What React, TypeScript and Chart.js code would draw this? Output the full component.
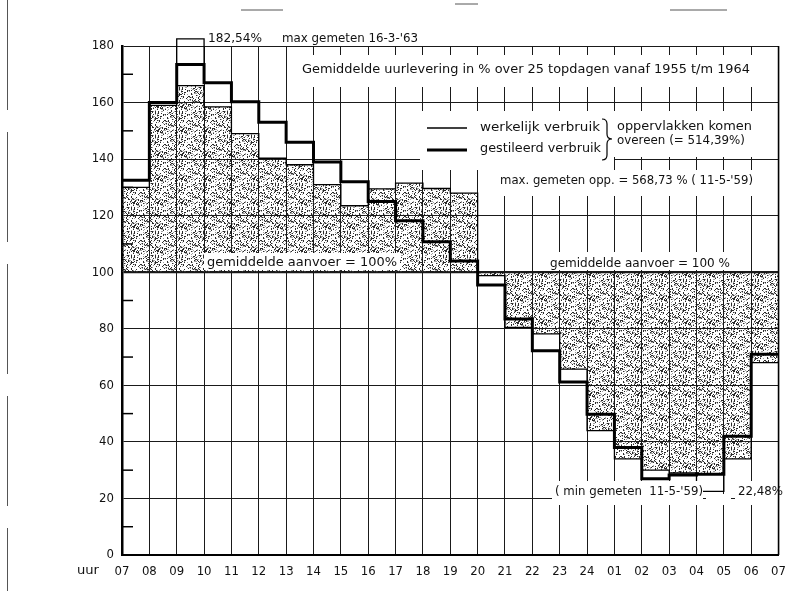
import { useEffect, useRef } from "react";
import { Chart, registerables } from "chart.js";

Chart.register(...registerables);

// ---- data ----
const hourLabels = [
  "07", "08", "09", "10", "11", "12", "13", "14", "15", "16", "17", "18",
  "19", "20", "21", "22", "23", "24", "01", "02", "03", "04", "05", "06", "07",
];
// werkelijk verbruik (actual average), value per hour interval 07-08 ... 06-07
const werkelijkVerbruik = [
  130, 159, 166, 158.5, 149, 140.3, 138, 131, 123.5, 129.5, 131.5, 129.6,
  128, 98.8, 80.5, 78.2, 65.7, 44, 34, 30, 29, 28.6, 34, 68,
];
// gestileerd verbruik (stylised)
const gestileerdVerbruik = [
  132.5, 160, 173.5, 167, 160.3, 153, 146, 139, 132, 125, 118.2, 110.8,
  104, 95.5, 83.5, 72.2, 61.2, 49.8, 38, 27, 28.3, 28.6, 42, 71,
];
const maxGemeten = 182.54;
const maxHourIndex = 2;
const minGemeten = 22.48;
const minHourIndex = 21;
const gemiddeldeAanvoer = 100;
const yTickValues = [0, 20, 40, 60, 80, 100, 120, 140, 160, 180];
const yMinorTicks = [10, 30, 50, 70, 90, 110, 130, 150, 170];

const FONT = '"DejaVu Sans Condensed", "DejaVu Sans", sans-serif';

function stepPoints(values: number[]) {
  const pts = values.map((v, i) => ({ x: i, y: v }));
  pts.push({ x: values.length, y: values[values.length - 1] });
  return pts;
}

// stipple texture tile (deterministic hash, texture only)
function makeStipple(ctx: CanvasRenderingContext2D) {
  const n = 24;
  const c = document.createElement("canvas");
  c.width = n;
  c.height = n;
  const g = c.getContext("2d")!;
  for (let y = 0; y < n; y++) {
    for (let x = 0; x < n; x++) {
      let h = Math.imul(x * 374761393 + y * 668265263, 1274126177) >>> 0;
      h = (h ^ (h >>> 13)) >>> 0;
      h = Math.imul(h, 1103515245) >>> 0;
      h = (h ^ (h >>> 16)) >>> 0;
      const r = h % 100;
      if (r < 20) {
        g.fillStyle = "rgba(20,20,20,0.9)";
        g.fillRect(x, y, 1, 1);
      } else if (r < 34) {
        g.fillStyle = "rgba(70,70,70,0.5)";
        g.fillRect(x, y, 1, 1);
      }
    }
  }
  return ctx.createPattern(c, "repeat")!;
}

function fitText(
  ctx: CanvasRenderingContext2D,
  text: string,
  x1: number,
  x2: number,
  yc: number,
  size = 13
) {
  ctx.save();
  ctx.font = `${size}px ${FONT}`;
  ctx.textBaseline = "middle";
  ctx.textAlign = "left";
  const w = ctx.measureText(text).width;
  const sx = (x2 - x1) / w;
  ctx.translate(x1, yc);
  ctx.scale(sx, 1);
  ctx.fillStyle = "#111";
  ctx.fillText(text, 0, 0);
  ctx.restore();
}

function whiteBox(ctx: CanvasRenderingContext2D, x1: number, y1: number, x2: number, y2: number) {
  ctx.fillStyle = "#fff";
  ctx.fillRect(x1, y1, x2 - x1, y2 - y1);
}

function line(ctx: CanvasRenderingContext2D, x1: number, y1: number, x2: number, y2: number, w: number) {
  ctx.beginPath();
  ctx.lineWidth = w;
  ctx.moveTo(x1, y1);
  ctx.lineTo(x2, y2);
  ctx.stroke();
}

export default function App() {
  const ref = useRef<HTMLCanvasElement>(null);

  useEffect(() => {
    const canvas = ref.current!;
    const ctx2d = canvas.getContext("2d")!;
    const stipple = makeStipple(ctx2d);

    const annot = {
      id: "annot",
      afterDatasetsDraw(chart: any) {
        const ctx: CanvasRenderingContext2D = chart.ctx;
        const ys = chart.scales.y;
        const area = chart.chartArea;
        ctx.save();
        // white backgrounds behind the texts
        whiteBox(ctx, 292, 55, 765, 87);
        whiteBox(ctx, 420, 111, 765, 157);
        whiteBox(ctx, 420, 157, 614, 170);
        whiteBox(ctx, 497, 170, 758, 196);
        whiteBox(ctx, 204, 253, 400, 270);
        whiteBox(ctx, 545, 252, 735, 270);
        whiteBox(ctx, 552, 481, 703, 505);
        whiteBox(ctx, 706, 494, 731, 505);
        whiteBox(ctx, 735, 481, 786, 505);

        ctx.strokeStyle = "#000";
        // minor ticks on y axis
        yMinorTicks.forEach((v) => {
          const y = ys.getPixelForValue(v);
          line(ctx, area.left, y, area.left + 11, y, 1.5);
        });
        // right border
        line(ctx, area.right, area.top, area.right, area.bottom, 1.6);

        // texts
        const yMax = ys.getPixelForValue(maxGemeten);
        fitText(ctx, "182,54%", 208, 262, yMax);
        fitText(ctx, "max gemeten 16-3-'63", 282, 418, yMax);
        fitText(ctx, "Gemiddelde uurlevering in % over 25 topdagen vanaf 1955 t/m 1964", 302, 750, 70);

        // legend
        line(ctx, 427, 128, 467, 128, 1.3);
        line(ctx, 427, 150, 467, 150, 3);
        fitText(ctx, "werkelijk verbruik", 480, 600, 128);
        fitText(ctx, "gestileerd verbruik", 480, 601, 149);
        // brace
        ctx.beginPath();
        ctx.lineWidth = 1.2;
        ctx.moveTo(602, 119);
        ctx.quadraticCurveTo(607, 119, 607, 124);
        ctx.lineTo(607, 134);
        ctx.quadraticCurveTo(607, 139, 612, 139);
        ctx.quadraticCurveTo(607, 139, 607, 144);
        ctx.lineTo(607, 155);
        ctx.quadraticCurveTo(607, 160, 602, 160);
        ctx.stroke();
        fitText(ctx, "oppervlakken komen", 617, 752, 127);
        fitText(ctx, "overeen (= 514,39%)", 617, 745, 141);
        fitText(ctx, "max. gemeten opp. = 568,73 % ( 11-5-'59)", 500, 753, 181);

        const y100 = ys.getPixelForValue(gemiddeldeAanvoer);
        fitText(ctx, "gemiddelde aanvoer = 100%", 207, 397, y100 - 10);
        fitText(ctx, "gemiddelde aanvoer = 100 %", 550, 730, y100 - 9);

        const yMin = ys.getPixelForValue(minGemeten);
        fitText(ctx, "( min gemeten  11-5-'59)", 555, 703, yMin);
        fitText(ctx, "22,48%", 738, 783, yMin);

        // axis unit label
        fitText(ctx, "uur", 77, 99, 571);

        // scan artefacts: page edge and top dashes
        ctx.strokeStyle = "#555";
        ctx.setLineDash([110, 22]);
        line(ctx, 7.5, 0, 7.5, 591, 1);
        ctx.setLineDash([]);
        line(ctx, 241, 10, 283, 10, 1);
        line(ctx, 455, 4, 478, 4, 1);
        line(ctx, 670, 10, 727, 10, 1);
        ctx.restore();
      },
    };

    const chart = new Chart(canvas, {
      type: "line",
      data: {
        datasets: [
          {
            label: "gestileerd verbruik",
            data: stepPoints(gestileerdVerbruik),
            stepped: "before",
            borderColor: "#000",
            borderWidth: 3,
            pointRadius: 0,
            fill: false,
          },
          {
            label: "max gemeten",
            data: [
              { x: maxHourIndex, y: gestileerdVerbruik[maxHourIndex] },
              { x: maxHourIndex, y: maxGemeten },
              { x: maxHourIndex + 1, y: maxGemeten },
              { x: maxHourIndex + 1, y: gestileerdVerbruik[maxHourIndex] },
            ],
            borderColor: "#000",
            borderWidth: 1.3,
            pointRadius: 0,
            tension: 0,
            fill: false,
            clip: false as any,
          },
          {
            label: "min gemeten",
            data: [
              { x: minHourIndex, y: gestileerdVerbruik[minHourIndex] },
              { x: minHourIndex, y: minGemeten },
              { x: minHourIndex + 1, y: minGemeten },
              { x: minHourIndex + 1, y: gestileerdVerbruik[minHourIndex] },
            ],
            borderColor: "#000",
            borderWidth: 1.3,
            pointRadius: 0,
            tension: 0,
            fill: false,
          },
          {
            label: "werkelijk verbruik",
            data: stepPoints(werkelijkVerbruik),
            stepped: "before",
            borderColor: "#000",
            borderWidth: 1.3,
            pointRadius: 0,
            backgroundColor: stipple as any,
            fill: { value: gemiddeldeAanvoer },
          },
        ],
      },
      options: {
        responsive: false,
        devicePixelRatio: 1,
        animation: false,
        layout: { padding: { top: 46, right: 7, left: 0, bottom: 0 } },
        plugins: {
          legend: { display: false },
          tooltip: { enabled: false },
        },
        scales: {
          x: {
            type: "linear",
            min: 0,
            max: hourLabels.length - 1,
            afterFit: (s: any) => {
              s.height = 36;
            },
            afterBuildTicks: (s: any) => {
              s.ticks = hourLabels.map((_, i) => ({ value: i }));
            },
            ticks: {
              autoSkip: false,
              maxRotation: 0,
              padding: 9,
              color: "#111",
              font: { family: FONT, size: 13 },
              callback: (v: any) => hourLabels[Number(v)] ?? "",
            },
            grid: { color: "#1a1a1a", lineWidth: 1, drawTicks: false },
            border: { color: "#000", width: 2 },
          },
          y: {
            min: 0,
            max: 180,
            afterFit: (s: any) => {
              s.width = 122;
            },
            afterBuildTicks: (s: any) => {
              s.ticks = yTickValues.map((v) => ({ value: v }));
            },
            ticks: {
              padding: 8,
              color: "#111",
              font: { family: FONT, size: 13 },
            },
            grid: {
              color: "#1a1a1a",
              lineWidth: (c: any) => (c.tick && c.tick.value === gemiddeldeAanvoer ? 2.2 : 1),
              drawTicks: false,
            },
            border: { color: "#000", width: 2.5 },
          },
        },
      },
      plugins: [annot],
    });
    return () => chart.destroy();
  }, []);

  return (
    <div style={{ position: "absolute", left: 0, top: 0, width: 795, height: 591, background: "#fff" }}>
      <canvas ref={ref} width={795} height={591} style={{ display: "block" }} />
    </div>
  );
}
